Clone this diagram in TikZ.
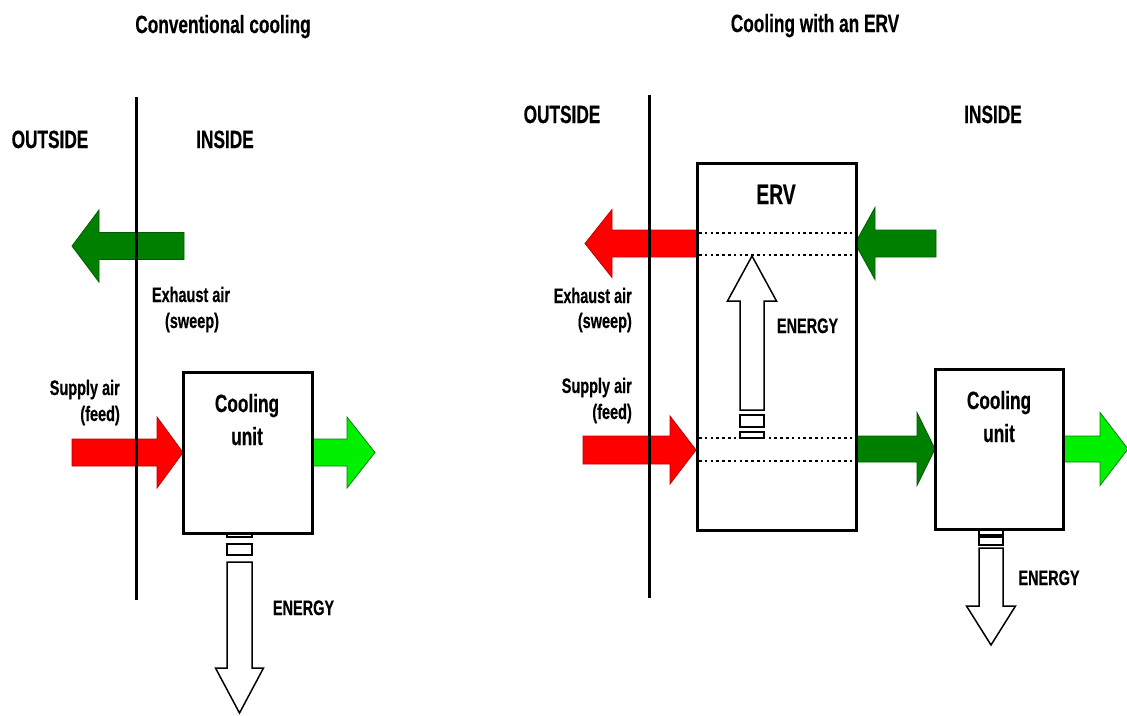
\documentclass[tikz,border=0pt]{standalone}
\usepackage{fontspec}
\setmainfont{Liberation Sans}[FakeStretch=0.69, BoldFeatures={FakeBold=0.4}]
\definecolor{redA}{RGB}{255,0,0}
\definecolor{dkgreen}{RGB}{0,128,0}
\definecolor{ltgreen}{RGB}{0,240,0}
\newcommand\hArrow[7]{% style, tail x, base x, tip x, yc, shaft half, head half
  \draw[#1] (#2,{#5-#6}) -- (#3,{#5-#6}) -- (#3,{#5-#7}) -- (#4,#5) -- (#3,{#5+#7}) -- (#3,{#5+#6}) -- (#2,{#5+#6}) -- cycle;}
\newcommand\vArrow[7]{% style, xc, tail y, base y, tip y, shaft half, head half
  \draw[#1] ({#2-#6},#3) -- ({#2-#6},#4) -- ({#2-#7},#4) -- (#2,#5) -- ({#2+#7},#4) -- ({#2+#6},#4) -- ({#2+#6},#3) -- cycle;}
\tikzset{
  lbl/.style={font=\bfseries\fontsize{21}{25}\selectfont, inner sep=0pt, anchor=base},
  big/.style={font=\bfseries\fontsize{25}{30}\selectfont, inner sep=0pt, anchor=base},
  unitbox/.style={draw=black, line width=3pt, fill=white, inner sep=0pt, outer sep=0pt},
  wall/.style={line width=3pt},
  redflow/.style={fill=redA, draw=redA!75!black, line width=0.8pt},
  dkflow/.style={fill=dkgreen, draw=dkgreen!70!black, line width=0.8pt},
  ltflow/.style={fill=ltgreen, draw=ltgreen!55!black, line width=0.8pt},
  energy/.style={fill=white, draw=black, line width=1.5pt, line join=miter},
  stripe/.style={fill=white, draw=black, line width=1.5pt},
  sepline/.style={line width=2.8pt, dash pattern=on 2.6pt off 3.2pt}
}
\begin{document}
\begin{tikzpicture}[x=1pt,y=-1pt]
\useasboundingbox[fill=white] (0,0) rectangle (1127,715);

% ---------------- Left: conventional cooling ----------------
\node[big] (titleL) at (223,33) {Conventional cooling};
\node[big] (outL) at (50,148) {OUTSIDE};
\node[big] (inL) at (225,148) {INSIDE};

\hArrow{dkflow}{184}{99}{72}{246}{13.5}{36}
\hArrow{redflow}{72}{157}{183}{452.5}{13.5}{35.5}
\hArrow{ltflow}{312}{347}{375}{452.5}{13.5}{35.5}

\node[lbl] (exhL) at (191,302) {Exhaust air};
\node[lbl] (swpL) at (192,328) {(sweep)};
\node[lbl, anchor=base east] (supL) at (120,395) {Supply air};
\node[lbl, anchor=base east] (feedL) at (120,421) {(feed)};

% energy arrow out of cooling unit
\draw[stripe] (227,528) rectangle (252,537);
\draw[stripe] (227,544) rectangle (252,555);
\vArrow{energy}{239.5}{562}{668}{713}{12.5}{24}
\node[lbl] (enL) at (303.5,615) {ENERGY};

\node[unitbox, minimum width=129pt, minimum height=161pt] (coolL) at (247.5,452.5) {};
\node[big] (coolLt1) at (247,412) {Cooling};
\node[big] (coolLt2) at (247,445) {unit};

\draw[wall] (136,97) coordinate (wLtop) -- (136,600) coordinate (wLbot);

% ---------------- Right: cooling with an ERV ----------------
\node[big] (titleR) at (815,32) {Cooling with an ERV};
\node[big] (outR) at (562,123) {OUTSIDE};
\node[big] (inR) at (993,123) {INSIDE};

\hArrow{redflow}{697}{612}{585}{243.5}{13.5}{34}
\hArrow{dkflow}{936}{875}{855}{243.5}{13.5}{36}
\hArrow{redflow}{583}{670}{696}{450}{14}{34}
\hArrow{dkflow}{856}{917}{935}{449}{13}{36.5}
\hArrow{ltflow}{1063}{1100}{1128}{449}{13}{36.5}

\node[lbl, anchor=base east] (exhR) at (632,303) {Exhaust air};
\node[lbl, anchor=base east] (swpR) at (632,328) {(sweep)};
\node[lbl, anchor=base east] (supR) at (632,393) {Supply air};
\node[lbl, anchor=base east] (feedR) at (632,419) {(feed)};

% ERV
\node[unitbox, minimum width=159pt, minimum height=367pt] (erv) at (776.5,346.5) {};
\node[big, font=\bfseries\fontsize{28}{32}\selectfont] (ervt) at (776,204) {ERV};
\draw[sepline] (699,233) -- (854,233);
\draw[sepline] (699,255) -- (854,255);
\draw[sepline] (699,438) -- (854,438);
\draw[sepline] (699,461) -- (854,461);
\vArrow{energy}{752}{410}{301}{256}{12}{24.5}
\draw[stripe] (740,415) rectangle (764,427);
\draw[stripe] (740,432) rectangle (764,438);
\node[lbl] (enE) at (807.5,333) {ENERGY};

% energy arrow out of second cooling unit
\draw[stripe] (979,527) rectangle (1003,535);
\draw[stripe] (979,537) rectangle (1003,545);
\vArrow{energy}{991}{548}{606}{645}{12}{24.5}
\node[lbl] (enR) at (1049,585) {ENERGY};

\node[unitbox, minimum width=128pt, minimum height=160pt] (coolR) at (999,449) {};
\node[big] (coolRt1) at (999,409) {Cooling};
\node[big] (coolRt2) at (999,442) {unit};

\draw[wall] (649,95) coordinate (wRtop) -- (649,598) coordinate (wRbot);
\end{tikzpicture}
\end{document}
